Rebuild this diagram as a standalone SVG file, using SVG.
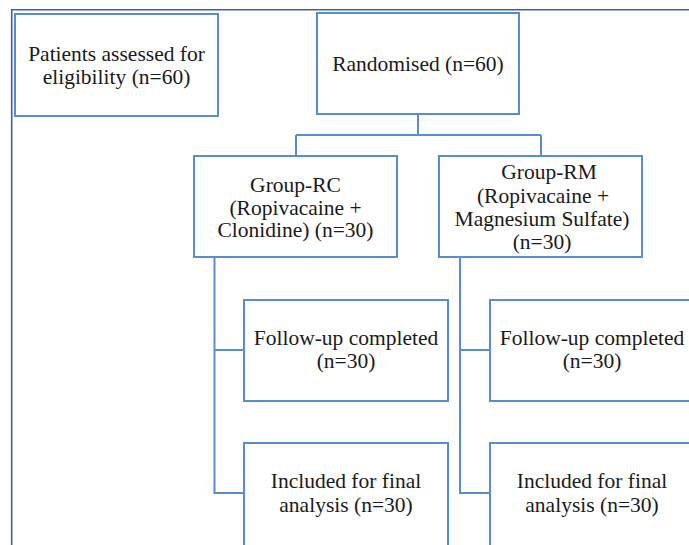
<svg xmlns="http://www.w3.org/2000/svg" width="689" height="545" viewBox="0 0 689 545">
<style>
.box{fill:#fff;stroke:#5a8dcc;stroke-width:2}
.con{fill:none;stroke:#5a8dcc;stroke-width:2}
text{font-family:"Liberation Serif","Times New Roman",serif;font-size:21.5px;fill:#1a1a1a;text-anchor:middle}
</style>
<rect width="689" height="545" fill="#fff"/>
<path d="M11.7 545 V9.7 H689" fill="none" stroke="#3f5ea6" stroke-width="1.6"/>
<g id="connectors">
<path class="con" d="M418 114 V135 M296 135 H541 M296 135 V156 M541 135 V156"/>
<path class="con" d="M214.5 257 V493 H244 M214.5 350 H244"/>
<path class="con" d="M460 257 V493 H490 M460 350 H490"/>
</g>
<g id="assessed">
<rect class="box" x="15" y="14" width="203" height="102"/>
<text x="116.5" y="61">Patients assessed for</text>
<text x="116.5" y="84">eligibility (n=60)</text>
</g>
<g id="randomised">
<rect class="box" x="317" y="13" width="202" height="101"/>
<text x="418" y="71">Randomised (n=60)</text>
</g>
<g id="group-rc">
<rect class="box" x="194" y="156" width="203" height="101"/>
<text x="295.5" y="192">Group-RC</text>
<text x="295.5" y="214.5">(Ropivacaine +</text>
<text x="295.5" y="237">Clonidine) (n=30)</text>
</g>
<g id="group-rm">
<rect class="box" x="439" y="156" width="203" height="101"/>
<text x="549" y="179">Group-RM</text>
<text x="543" y="202.5">(Ropivacaine +</text>
<text x="542" y="226">Magnesium Sulfate)</text>
<text x="542" y="249">(n=30)</text>
</g>
<g id="followup-rc">
<rect class="box" x="244" y="300" width="204" height="101"/>
<text x="346" y="345">Follow-up completed</text>
<text x="346" y="368">(n=30)</text>
</g>
<g id="included-rc">
<rect class="box" x="244" y="443" width="204" height="110"/>
<text x="346" y="488">Included for final</text>
<text x="346" y="511.5">analysis (n=30)</text>
</g>
<g id="followup-rm">
<rect class="box" x="490" y="300" width="204" height="101"/>
<text x="592" y="345">Follow-up completed</text>
<text x="592" y="368">(n=30)</text>
</g>
<g id="included-rm">
<rect class="box" x="490" y="443" width="204" height="110"/>
<text x="592" y="488">Included for final</text>
<text x="592" y="511.5">analysis (n=30)</text>
</g>
</svg>
